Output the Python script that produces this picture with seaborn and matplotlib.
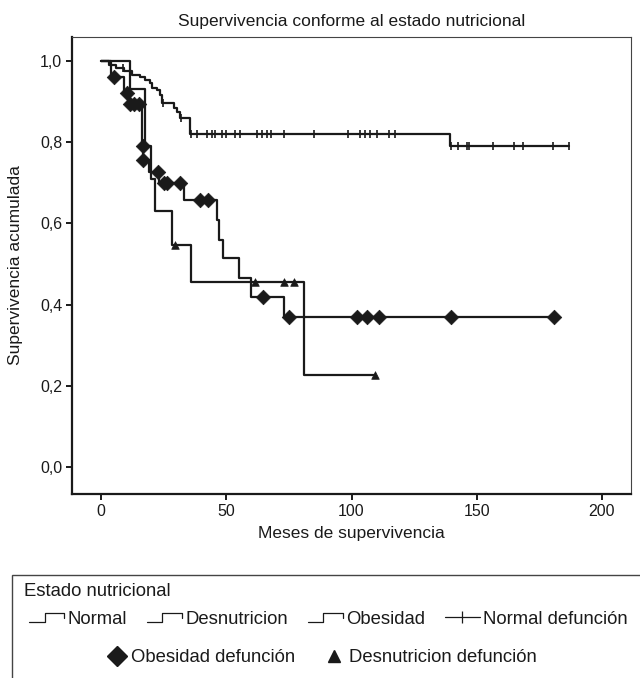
import numpy as np
import pandas as pd
import seaborn as sns
import matplotlib
matplotlib.use("Agg")
import matplotlib.pyplot as plt
from matplotlib.lines import Line2D
from matplotlib.patches import Rectangle
from matplotlib.legend_handler import HandlerBase

# ---------------- data ----------------
normal_t = [0, 3, 6, 9, 12.5, 15.5, 17.5, 19.5, 20.5, 22.5, 23.5, 24.5, 29, 30.5, 31.5, 35.5, 139.3, 187]
normal_s = [1.0, 0.99, 0.983, 0.975, 0.966, 0.96, 0.952, 0.945, 0.933, 0.928, 0.916, 0.897, 0.884, 0.874, 0.86, 0.82, 0.79, 0.79]
normal_cens = [8.8, 24.8, 31.8, 35.8, 38.3, 42.3, 44.3, 45.5, 48.3, 49.9, 53.5, 55.5, 62.3, 64.3,
               66.3, 67.9, 73.1, 85.0, 98.6, 103.4, 105.4, 107.4, 110.2, 115.0, 117.4,
               139.7, 142.5, 146.0, 147.0, 156.5, 165.0, 168.5, 180.4, 186.8]

obes_t = [0, 4, 9, 11, 16.5, 16.7, 19, 23.2, 33, 46.3, 47.1, 48.7, 55.1, 59.9, 73.1, 180.8]
obes_s = [1.0, 0.96, 0.92, 0.895, 0.79, 0.755, 0.727, 0.70, 0.657, 0.608, 0.56, 0.515, 0.466, 0.42, 0.37, 0.37]
obes_cens = [5.0, 10.4, 11.5, 13.0, 15.0, 16.6, 16.8, 22.8, 25.0, 26.5, 31.5, 39.5, 42.7,
             64.7, 75.0, 102.0, 106.0, 111.0, 139.7, 180.8]

desn_t = [0, 11.6, 17.5, 20.0, 21.5, 28.3, 35.9, 81.0, 109.4]
desn_s = [1.0, 0.93, 0.79, 0.71, 0.63, 0.547, 0.455, 0.228, 0.228]
desn_cens = [29.5, 61.5, 73.0, 77.0, 109.4]

x_ticks = [0, 50, 100, 150, 200]
y_ticks = [0.0, 0.2, 0.4, 0.6, 0.8, 1.0]
y_ticklabels = ["0,0", "0,2", "0,4", "0,6", "0,8", "1,0"]

title = "Supervivencia conforme al estado nutricional"
xlabel = "Meses de supervivencia"
ylabel = "Supervivencia acumulada"
legend_title = "Estado nutricional"
labels_row1 = ["Normal", "Desnutricion", "Obesidad", "Normal defunción"]
labels_row2 = ["Obesidad defunción", "Desnutricion defunción"]


def step_value(t, s, c):
    t = np.asarray(t); s = np.asarray(s)
    idx = np.searchsorted(t, np.asarray(c), side="right") - 1
    return s[np.clip(idx, 0, len(s) - 1)]


# ---------------- style ----------------
sns.set_style("ticks")
plt.rcParams["font.family"] = ["Liberation Sans", "DejaVu Sans"]
INK = "#1a1a1a"
LEGFS = 13.3

fig = plt.figure(figsize=(6.4, 6.78), dpi=100)
ax = fig.add_axes([72 / 640, 1 - 494 / 678, (631 - 72) / 640, (494 - 37) / 678])

curves = [
    (normal_t, normal_s),
    (desn_t, desn_s),
    (obes_t, obes_s),
]
for t, s in curves:
    df = pd.DataFrame({"t": t, "s": s})
    sns.lineplot(data=df, x="t", y="s", drawstyle="steps-post", color=INK,
                 linewidth=1.6, ax=ax, estimator=None, sort=False)

cens_specs = [
    (normal_t, normal_s, normal_cens, "|", 40, 1.2),
    (obes_t, obes_s, obes_cens, "D", 55, 0.5),
    (desn_t, desn_s, desn_cens, "^", 30, 0.5),
]
for t, s, c, m, size, lw in cens_specs:
    df = pd.DataFrame({"t": c, "s": step_value(t, s, c)})
    sns.scatterplot(data=df, x="t", y="s", marker=m, s=size, color=INK,
                    edgecolor=INK, linewidth=lw, ax=ax, zorder=4)

ax.set_xlim(-11.6, 211.6)
ax.set_ylim(-0.066, 1.059)
ax.set_xticks(x_ticks)
ax.set_yticks(y_ticks)
ax.set_yticklabels(y_ticklabels)
ax.tick_params(axis="both", direction="out", length=4, width=1.4, colors=INK,
               labelsize=11.5, pad=3)
for side in ["left", "bottom"]:
    ax.spines[side].set_linewidth(1.6)
    ax.spines[side].set_color(INK)
for side in ["top", "right"]:
    ax.spines[side].set_visible(True)
    ax.spines[side].set_linewidth(0.8)
    ax.spines[side].set_color("#444444")
ax.set_xlabel(xlabel, fontsize=12.5, color=INK, labelpad=5)
ax.set_ylabel(ylabel, fontsize=12.5, color=INK, labelpad=12)
ax.set_title(title, fontsize=12.5, color=INK, pad=8)


# ---------------- legend ----------------
class StepHandler(HandlerBase):
    def create_artists(self, legend, orig_handle, xdescent, ydescent,
                       width, height, fontsize, trans):
        xs = np.array([0.0, 0.45, 0.45, 1.0, 1.0]) * width - xdescent
        ys = np.array([0.1, 0.1, 0.8, 0.8, 0.45]) * height - ydescent
        ln = Line2D(xs, ys, color=INK, linewidth=0.9)
        ln.set_transform(trans)
        return [ln]


step_h = [Line2D([], [], color=INK) for _ in range(3)]
plus_h = Line2D([], [], color=INK, linewidth=0.9, marker="|", markersize=9,
                markeredgewidth=0.9)
hmap = {h: StepHandler() for h in step_h}

fig.legend(handles=step_h + [plus_h], labels=labels_row1, loc="center left",
           bbox_to_anchor=(29 / 640, 1 - 619 / 678), ncol=4, frameon=False,
           fontsize=LEGFS, handlelength=1.9, handletextpad=0.2,
           columnspacing=1.05, borderpad=0, borderaxespad=0,
           handler_map=hmap, labelcolor=INK)

diam_h = Line2D([], [], linestyle="none", marker="D", markersize=10, color=INK)
tri_h = Line2D([], [], linestyle="none", marker="^", markersize=9, color=INK)
fig.legend(handles=[diam_h, tri_h], labels=labels_row2, loc="center",
           bbox_to_anchor=(322 / 640, 1 - 658 / 678), ncol=2, frameon=False,
           fontsize=LEGFS, handlelength=1.0, handletextpad=0.3,
           columnspacing=1.6, borderpad=0, borderaxespad=0, labelcolor=INK)

fig.text(24 / 640, 1 - 592 / 678, legend_title, fontsize=LEGFS, color=INK,
         ha="left", va="center")
fig.add_artist(Rectangle((12 / 640, -0.05), 1.0, (678 - 575) / 678 + 0.05,
                         transform=fig.transFigure, fill=False, edgecolor="#444444",
                         linewidth=1.0))

fig.savefig("out.png", dpi=100)
